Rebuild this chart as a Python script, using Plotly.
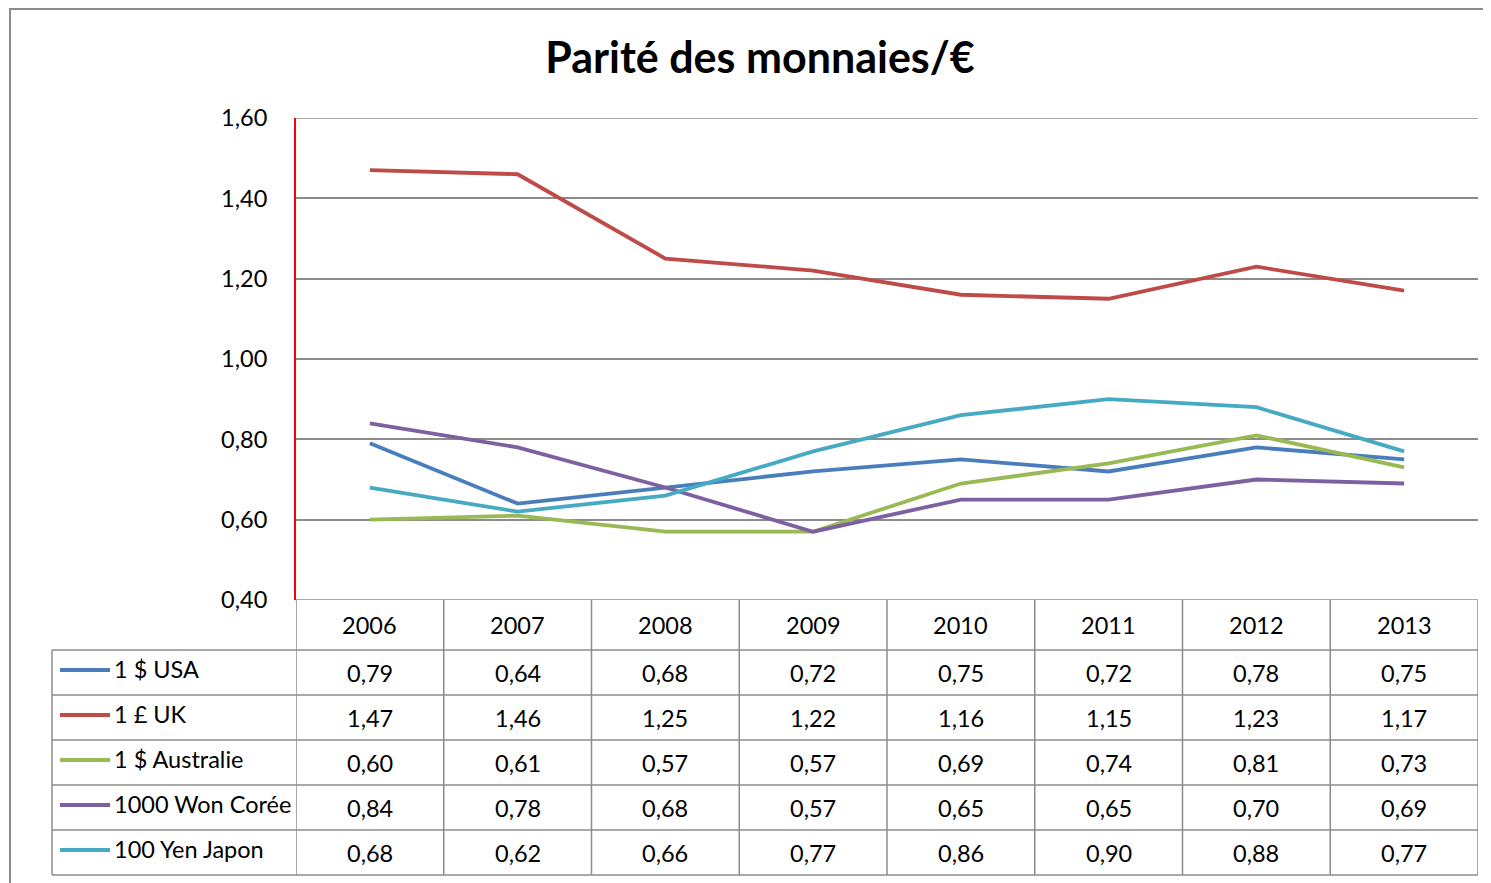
"""Line chart of currency parities against the euro, with an Excel-style data table."""

import plotly.graph_objects as go

YEARS = ["2006", "2007", "2008", "2009", "2010", "2011", "2012", "2013"]
USD = [0.79, 0.64, 0.68, 0.72, 0.75, 0.72, 0.78, 0.75]
GBP = [1.47, 1.46, 1.25, 1.22, 1.16, 1.15, 1.23, 1.17]
AUD = [0.60, 0.61, 0.57, 0.57, 0.69, 0.74, 0.81, 0.73]
KRW = [0.84, 0.78, 0.68, 0.57, 0.65, 0.65, 0.70, 0.69]
JPY = [0.68, 0.62, 0.66, 0.77, 0.86, 0.90, 0.88, 0.77]

SERIES_NAMES = ["1 $ USA", "1 £ UK", "1 $ Australie", "1000 Won Corée", "100 Yen Japon"]
SERIES_VALUES = [USD, GBP, AUD, KRW, JPY]
SERIES_COLORS = ["#4A7EBB", "#BE4B48", "#98B954", "#7D60A0", "#46AAC5"]

TITLE = "Parité des monnaies/€"
Y_MIN, Y_MAX = 0.4, 1.6

# the page body has an 8px margin, so the figure is drawn 8px in from the window edge
OFFSET = 8
WIDTH, HEIGHT = 1491 - OFFSET, 883 - OFFSET
PLOT_LEFT, PLOT_RIGHT, PLOT_TOP, PLOT_BOTTOM = 296, 1478, 118, 600
FONT = "Lato"
GRID = "#8C8C8C"


def _py(ypx):
    """Convert a window pixel row into paper y coordinates."""
    return (PLOT_BOTTOM - ypx) / (PLOT_BOTTOM - PLOT_TOP)


def _px(xpx):
    """Convert a window pixel column into paper x coordinates."""
    return (xpx - PLOT_LEFT) / (PLOT_RIGHT - PLOT_LEFT)


def _fmt(value):
    return f"{value:.2f}".replace(".", ",")


def _add_lines(fig):
    for name, values, color in zip(SERIES_NAMES, SERIES_VALUES, SERIES_COLORS):
        fig.add_scatter(
            x=YEARS,
            y=values,
            mode="lines",
            name=name,
            line={"color": color, "width": 3.8},
            showlegend=False,
        )


def _add_table(fig):
    """Draw the data table under the plot area with shapes and annotations."""
    header_bottom = 650
    row_h = 45
    n_rows = len(SERIES_NAMES)
    table_bottom = header_bottom + row_h * n_rows
    line = {"color": GRID, "width": 1.5}
    font = {"family": FONT, "size": 23.5, "color": "black"}

    # horizontal rules
    for i in range(n_rows + 1):
        y = _py(header_bottom + i * row_h)
        fig.add_shape(type="line", xref="paper", yref="paper",
                      x0=_px(52), x1=1, y0=y, y1=y, line=line)
    # left edge of the label column
    fig.add_shape(type="line", xref="paper", yref="paper",
                  x0=_px(52), x1=_px(52), y0=_py(header_bottom), y1=_py(table_bottom), line=line)
    # category separators
    for i in range(len(YEARS) + 1):
        fig.add_shape(type="line", xref="x", yref="paper",
                      x0=i - 0.5, x1=i - 0.5, y0=0, y1=_py(table_bottom), line=line)

    # header years (category index as position)
    for i, year in enumerate(YEARS):
        fig.add_annotation(x=i, xref="x", y=_py(624.5), yref="paper", text=year,
                           showarrow=False, yanchor="middle", font=font)

    # rows
    for r, (name, values, color) in enumerate(zip(SERIES_NAMES, SERIES_VALUES, SERIES_COLORS)):
        top = header_bottom + r * row_h
        fig.add_shape(type="line", xref="paper", yref="paper",
                      x0=_px(60), x1=_px(110), y0=_py(top + 20), y1=_py(top + 20),
                      line={"color": color, "width": 4})
        fig.add_annotation(x=_px(112), xref="paper", y=_py(top + 19),
                           yref="paper", text=name, showarrow=False,
                           xanchor="left", yanchor="middle", font=font)
        for i, value in enumerate(values):
            fig.add_annotation(x=i, xref="x", y=_py(top + row_h / 2), yref="paper",
                               text=_fmt(value), showarrow=False, yanchor="middle", font=font)


def _add_layout(fig):
    fig.add_shape(type="rect", xref="paper", yref="paper",
                  x0=_px(10), x1=_px(1520), y0=_py(9), y1=_py(920),
                  line={"color": "#8C8C8C", "width": 2}, layer="below")
    # Excel draws the gridlines at both ends of the value range too
    for y in (Y_MIN, Y_MAX):
        fig.add_shape(type="line", xref="paper", yref="y", x0=0, x1=1, y0=y, y1=y,
                      line={"color": GRID, "width": 1.5}, layer="below")
    fig.update_layout(
        width=WIDTH,
        height=HEIGHT,
        margin={
            "l": PLOT_LEFT - OFFSET,
            "r": WIDTH + OFFSET - PLOT_RIGHT,
            "t": PLOT_TOP - OFFSET,
            "b": HEIGHT + OFFSET - PLOT_BOTTOM,
        },
        paper_bgcolor="white",
        plot_bgcolor="white",
        separators=", ",
        title={
            "text": f"<b>{TITLE}</b>",
            "x": (760 - OFFSET) / WIDTH,
            "xanchor": "center",
            "y": 1 - (58 - OFFSET) / HEIGHT,
            "yanchor": "middle",
            "font": {"family": FONT, "size": 43, "color": "black"},
        },
    )
    fig.update_xaxes(type="category", range=[-0.5, len(YEARS) - 0.5],
                     showticklabels=False, showgrid=False, zeroline=False, ticks="")
    fig.update_yaxes(
        range=[Y_MIN, Y_MAX],
        dtick=0.2,
        tickformat=".2f",
        showgrid=True,
        gridcolor=GRID,
        gridwidth=1.5,
        zeroline=False,
        showline=True,
        linecolor="#FF0000",
        linewidth=2,
        ticks="outside",
        ticklen=22,
        tickcolor="rgba(0,0,0,0)",
        tickfont={"family": FONT, "size": 23.5, "color": "black"},
    )


fig = go.Figure()
_add_lines(fig)
_add_table(fig)
_add_layout(fig)
fig.write_html("out.html")
